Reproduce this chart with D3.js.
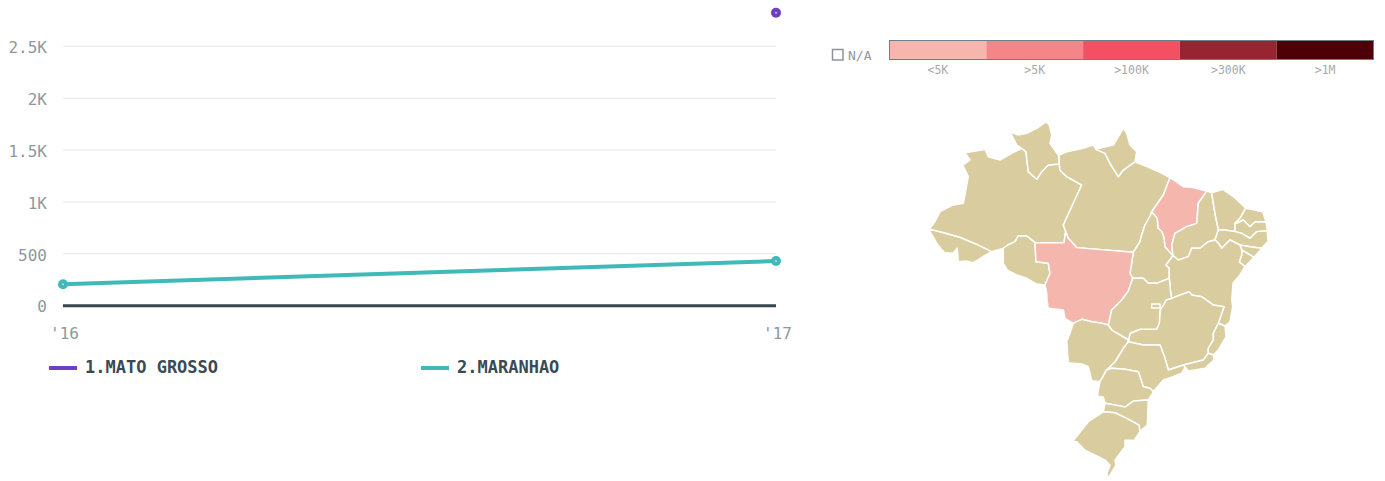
<!DOCTYPE html>
<html>
<head>
<meta charset="utf-8">
<script src="https://cdn.jsdelivr.net/npm/d3@7"></script>
<style>
  html, body { margin: 0; padding: 0; background: #fff; }
  svg { display: block; }
  text { font-family: "DejaVu Sans Mono", monospace; }
  .grid-y .domain, .axis-x .domain, .axis-x line { display: none; }
</style>
</head>
<body>
<div id="chart"></div>
<script>
// line chart data
const years = ["'16", "'17"];
const yTicks = [0, 500, 1000, 1500, 2000, 2500];
const yTickLabels = ['0', '500', '1K', '1.5K', '2K', '2.5K'];
const seriesNames = ['1.MATO GROSSO', '2.MARANHAO'];
const seriesColors = ['#6e3ec4', '#3fbab8'];
const matoGrosso = [null, 2823];
const maranhao = [207, 430];

// choropleth legend
const legendLabels = ['<5K', '>5K', '>100K', '>300K', '>1M'];
const legendColors = ['#f5b6ae', '#f4868a', '#f35064', '#962431', '#4d0008'];
const landColor = '#d9cda0';
const highlighted = ['MT', 'MA'];

// state borders as lon/lat, each one shared by the states on both sides
const acAm = [[-73.97,-7.06],[-72.15,-7.52],[-70.42,-8.02],[-68.57,-8.78],[-66.75,-9.66]];
const acOut = [[-66.75,-9.66],[-67.64,-10.15],[-68.34,-10.61],[-68.91,-10.92],[-69.72,-10.72],[-70.61,-10.80],[-70.73,-9.27],[-71.23,-9.84],[-72.15,-9.78],[-72.61,-9.35],[-73.11,-8.70],[-73.88,-7.37],[-73.97,-7.06]];
const amEdge = [[-66.75,-9.66],[-65.44,-9.30]];
const amRo = [[-65.44,-9.30],[-64.87,-8.90],[-64.06,-8.52],[-63.68,-7.87],[-62.70,-7.87],[-61.75,-8.63]];
const roMt = [[-61.75,-8.63],[-61.63,-10.80],[-60.21,-10.98],[-60.01,-12.12],[-60.59,-13.44]];
const roOut = [[-60.59,-13.44],[-61.55,-13.33],[-62.70,-12.68],[-63.86,-12.31],[-64.95,-11.75],[-65.41,-10.98],[-65.41,-9.66],[-65.44,-9.30]];
const amOut = [[-73.97,-7.06],[-73.31,-6.24],[-72.73,-5.08],[-71.19,-4.30],[-70.03,-4.11],[-69.46,-1.04],[-70.10,0.31],[-69.26,0.89],[-69.84,1.73],[-67.91,2.04],[-67.53,2.12],[-67.14,1.27],[-65.79,0.89],[-64.83,1.46],[-63.28,2.24]];
const amRr = [[-63.28,2.24],[-62.79,1.85],[-62.52,-0.46],[-61.55,-1.34],[-60.97,-0.46],[-60.21,0.31],[-58.94,0.43]];
const rrOut = [[-63.28,2.24],[-63.86,2.62],[-64.25,3.40],[-64.64,4.16],[-63.68,3.78],[-62.70,3.97],[-61.55,4.55],[-60.47,5.30],[-60.09,4.93],[-59.81,3.78],[-60.01,2.82],[-59.05,1.46],[-58.94,0.43]];
const amPa = [[-58.94,0.43],[-58.86,-0.27],[-58.08,-1.04],[-56.35,-2.00],[-58.47,-6.61],[-58.20,-7.37]];
const amMt = [[-58.20,-7.37],[-58.39,-8.64],[-61.75,-8.63]];
const paMt = [[-58.20,-7.37],[-57.90,-8.13],[-56.92,-9.20],[-50.38,-9.73]];
const paTo = [[-50.38,-9.73],[-49.61,-8.52],[-49.41,-7.76],[-49.03,-6.61],[-48.37,-5.46],[-48.25,-5.08]];
const paMa = [[-48.25,-5.08],[-46.91,-3.15],[-46.14,-1.15]];
const paN = [[-58.94,0.43],[-58.94,1.46],[-58.08,1.85],[-56.16,2.24],[-55.01,2.62],[-54.69,2.12]];
const paAp = [[-54.69,2.12],[-53.65,1.66],[-53.07,0.51],[-52.12,-1.04],[-51.54,-0.27],[-50.18,0.69]];
const apOut = [[-54.69,2.12],[-53.85,2.35],[-52.69,2.62],[-51.54,4.55],[-51.14,3.97],[-50.76,2.62],[-49.99,1.85],[-50.18,0.69]];
const paNe = [[-50.18,0.69],[-48.83,0.12],[-47.49,-0.46],[-46.14,-1.15]];
const maN = [[-46.14,-1.15],[-44.60,-2.20],[-43.63,-2.27],[-41.90,-2.70]];
const maPi = [[-41.90,-2.70],[-42.87,-4.11],[-43.05,-6.42],[-44.21,-6.80],[-45.56,-7.56],[-45.94,-8.90],[-45.79,-10.12]];
const maTo = [[-48.25,-5.08],[-47.61,-5.85],[-47.53,-6.95],[-47.06,-7.41],[-46.83,-8.10],[-46.72,-9.09],[-45.79,-10.12]];
const piN = [[-41.90,-2.70],[-41.32,-2.89]];
const piCe = [[-41.32,-2.89],[-40.94,-5.27],[-40.55,-7.18]];
const piPe = [[-40.55,-7.18],[-40.94,-8.33]];
const piBa = [[-40.94,-8.33],[-41.71,-8.52],[-42.67,-9.27],[-43.63,-9.27],[-44.02,-10.23],[-45.18,-10.61],[-45.79,-10.12]];
const ceOut = [[-41.32,-2.89],[-40.01,-2.50],[-38.62,-3.50],[-37.39,-4.69]];
const ceRn = [[-37.39,-4.69],[-38.05,-5.85],[-38.62,-6.42]];
const cePb = [[-38.62,-6.42],[-38.62,-7.37]];
const cePe = [[-38.62,-7.37],[-39.78,-7.18],[-40.55,-7.18]];
const rnOut = [[-37.39,-4.69],[-36.31,-4.88],[-35.39,-5.11],[-35.04,-6.27]];
const rnPb = [[-35.04,-6.27],[-36.31,-6.27],[-36.89,-6.80],[-37.66,-6.04],[-38.43,-6.42],[-38.62,-6.42]];
const pbOut = [[-35.04,-6.27],[-34.89,-7.26]];
const pbPe = [[-38.62,-7.37],[-37.85,-7.56],[-36.89,-8.13],[-36.11,-7.37],[-34.89,-7.26]];
const peOut = [[-34.89,-7.26],[-34.81,-8.52]];
const peAl = [[-34.81,-8.52],[-35.54,-9.27],[-36.89,-9.09],[-38.05,-8.90]];
const peBa = [[-38.05,-8.90],[-39.20,-8.33],[-40.16,-9.27],[-40.55,-8.70],[-40.94,-8.33]];
const alOut = [[-34.81,-8.52],[-36.43,-10.30]];
const alSe = [[-36.43,-10.30],[-37.85,-9.47]];
const alBa = [[-37.85,-9.47],[-38.05,-8.90]];
const seOut = [[-36.43,-10.30],[-37.47,-11.37]];
const seBa = [[-37.47,-11.37],[-38.13,-10.84],[-37.85,-10.04],[-37.85,-9.47]];
const baCoast = [[-37.47,-11.37],[-38.05,-12.31],[-38.85,-13.22],[-39.00,-15.12],[-38.89,-15.86],[-39.20,-17.53],[-39.78,-18.00]];
const baEs = [[-39.78,-18.00],[-40.55,-17.70]];
const baMg = [[-45.94,-14.93],[-44.98,-14.56],[-43.91,-14.20],[-43.63,-14.56],[-42.47,-14.75],[-41.13,-15.68],[-39.89,-15.86],[-40.55,-17.70]];
const esOut = [[-39.78,-18.00],[-39.66,-19.17],[-40.55,-20.62],[-41.13,-21.16]];
const esRj = [[-41.13,-21.16],[-41.71,-20.97]];
const esMg = [[-41.71,-20.97],[-41.71,-20.43],[-41.13,-19.53],[-41.13,-18.80],[-40.55,-17.70]];
const rjOut = [[-41.13,-21.16],[-41.05,-21.69],[-42.09,-22.58],[-44.02,-22.87],[-44.40,-22.47]];
const rjMg = [[-41.71,-20.97],[-42.29,-21.69],[-44.60,-22.23]];
const spRj = [[-44.60,-22.23],[-44.40,-22.47]];
const mgSp = [[-44.60,-22.23],[-46.33,-22.76],[-46.72,-21.51],[-47.29,-20.07],[-49.22,-20.07],[-50.96,-19.71]];
const spOut = [[-44.40,-22.47],[-44.79,-23.11],[-45.94,-23.54],[-46.91,-23.82],[-48.07,-25.05]];
const spPr = [[-48.07,-25.05],[-48.45,-24.70],[-49.22,-24.53],[-49.80,-22.94],[-51.34,-22.69],[-52.88,-22.58],[-53.46,-22.76]];
const spMs = [[-53.46,-22.76],[-52.50,-21.88],[-51.54,-20.43],[-50.96,-19.71]];
const goMs = [[-50.96,-19.71],[-51.07,-19.45],[-52.88,-18.44],[-53.27,-17.89]];
const goMt = [[-53.27,-17.89],[-52.88,-16.23],[-51.72,-15.12],[-50.96,-14.12],[-50.45,-12.68]];
const toMt = [[-50.45,-12.68],[-50.76,-12.12],[-50.38,-9.73]];
const toGo = [[-50.45,-12.68],[-49.22,-12.68],[-48.65,-13.25],[-47.68,-13.25],[-46.22,-12.68]];
const toBa = [[-46.22,-12.68],[-46.22,-11.52],[-46.60,-11.18],[-45.79,-10.12]];
const goBa = [[-46.22,-12.68],[-46.06,-14.34],[-45.94,-14.93]];
const goMg = [[-45.94,-14.93],[-46.60,-15.12],[-46.91,-15.68],[-47.29,-16.23],[-47.38,-17.70],[-47.68,-18.36],[-49.61,-18.36],[-50.76,-18.80],[-50.96,-19.71]];
const mtMs = [[-53.27,-17.89],[-54.00,-17.70],[-55.16,-17.53],[-56.35,-17.26],[-57.32,-17.70]];
const mtOut = [[-57.32,-17.70],[-58.28,-17.15],[-58.47,-16.23],[-60.21,-16.04],[-60.36,-15.12],[-60.39,-14.34],[-60.59,-13.44]];
const msOut = [[-57.32,-17.70],[-57.70,-18.77],[-58.08,-19.71],[-57.90,-21.98],[-56.35,-22.12],[-55.58,-22.41],[-55.19,-23.90],[-54.23,-24.00]];
const msPr = [[-54.23,-24.00],[-53.46,-22.76]];
const prW = [[-54.23,-24.00],[-54.54,-25.50],[-53.85,-25.64],[-53.65,-26.27]];
const prSc = [[-53.65,-26.27],[-52.50,-26.45],[-51.34,-26.66],[-50.38,-26.03],[-48.65,-25.92]];
const prE = [[-48.65,-25.92],[-48.14,-25.22],[-48.07,-25.05]];
const scOut = [[-48.65,-25.92],[-48.76,-28.50],[-49.61,-29.17]];
const scRs = [[-49.61,-29.17],[-49.72,-28.50],[-51.14,-27.82],[-52.50,-27.24],[-53.85,-27.14]];
const scW = [[-53.85,-27.14],[-53.65,-26.27]];
const rsOut = [[-49.61,-29.17],[-50.76,-30.68],[-51.07,-31.34],[-50.68,-30.51],[-50.45,-30.02],[-51.34,-30.02],[-51.34,-30.68],[-52.50,-32.00],[-52.38,-32.50],[-53.27,-33.73],[-53.46,-33.30],[-53.07,-32.50],[-53.65,-32.00],[-55.97,-31.01],[-56.92,-30.19],[-57.43,-30.19],[-55.58,-28.16],[-53.85,-27.14]];
const dfRing = [[-48.25,-15.57],[-47.29,-15.57],[-47.29,-16.01],[-48.25,-16.01],[-48.25,-15.57]];

const states = [
  { id: 'AC', arcs: [acAm, acOut] },
  { id: 'AM', arcs: [amOut, amRr, amPa, amMt, amRo, amEdge, acAm] },
  { id: 'RR', arcs: [rrOut, amRr] },
  { id: 'RO', arcs: [amRo, roMt, roOut] },
  { id: 'PA', arcs: [paN, paAp, paNe, paMa, paTo, paMt, amPa] },
  { id: 'AP', arcs: [apOut, paAp] },
  { id: 'MA', arcs: [maN, maPi, maTo, paMa] },
  { id: 'TO', arcs: [paTo, maTo, toBa, toGo, toMt] },
  { id: 'MT', arcs: [amMt, roMt, mtOut, mtMs, goMt, toMt, paMt] },
  { id: 'PI', arcs: [piN, piCe, piPe, piBa, maPi] },
  { id: 'CE', arcs: [ceOut, ceRn, cePb, cePe, piCe] },
  { id: 'RN', arcs: [rnOut, rnPb, ceRn] },
  { id: 'PB', arcs: [pbOut, pbPe, cePb, rnPb] },
  { id: 'PE', arcs: [peOut, peAl, peBa, piPe, cePe, pbPe] },
  { id: 'AL', arcs: [alOut, alSe, alBa, peAl] },
  { id: 'SE', arcs: [seOut, seBa, alSe] },
  { id: 'BA', arcs: [baCoast, baEs, baMg, goBa, toBa, piBa, peBa, alBa, seBa] },
  { id: 'MG', arcs: [baMg, esMg, rjMg, mgSp, goMg] },
  { id: 'ES', arcs: [baEs, esOut, esRj, esMg] },
  { id: 'RJ', arcs: [esRj, rjOut, spRj, rjMg] },
  { id: 'SP', arcs: [mgSp, spRj, spOut, spPr, spMs] },
  { id: 'GO', arcs: [toGo, goBa, goMg, goMs, goMt] },
  { id: 'MS', arcs: [mtMs, goMs, spMs, msPr, msOut] },
  { id: 'PR', arcs: [spPr, msPr, prW, prSc, prE] },
  { id: 'SC', arcs: [prSc, scOut, scRs, scW] },
  { id: 'RS', arcs: [scRs, rsOut] },
  { id: 'DF', arcs: [dfRing] }
];

// joins the borders of a state into one ring, flipping each where needed
function buildRing(arcs) {
  const dist = (a, b) => Math.hypot(a[0] - b[0], a[1] - b[1]);
  let ring = arcs[0].slice();
  if (arcs.length > 1) {
    const next = arcs[1];
    const endGap = Math.min(dist(ring[ring.length - 1], next[0]), dist(ring[ring.length - 1], next[next.length - 1]));
    const startGap = Math.min(dist(ring[0], next[0]), dist(ring[0], next[next.length - 1]));
    if (startGap < endGap) ring.reverse();
  }
  arcs.slice(1).forEach(arc => {
    const last = ring[ring.length - 1];
    const part = dist(last, arc[0]) <= dist(last, arc[arc.length - 1]) ? arc : arc.slice().reverse();
    ring = ring.concat(part.slice(1));
  });
  return ring;
}

const svg = d3.select('#chart').append('svg')
  .attr('width', 1385)
  .attr('height', 481);

// line chart
const x = d3.scalePoint().domain(years).range([63, 776]);
const y = d3.scaleLinear().domain([0, 2500]).range([305.7, 46.3]);

svg.append('g')
  .attr('class', 'grid-y')
  .attr('transform', 'translate(63,0)')
  .call(d3.axisLeft(y).tickValues(yTicks).tickSize(-713).tickPadding(16).offset(0)
    .tickFormat((d, i) => yTickLabels[i]))
  .call(g => g.selectAll('line').attr('stroke', '#eceef0').attr('stroke-width', 1.5))
  .call(g => g.selectAll('text')
    .attr('fill', '#8f989d').attr('font-size', 16).attr('dy', '0.42em'));

svg.append('line')
  .attr('x1', x(years[0])).attr('x2', x(years[1]))
  .attr('y1', y(0)).attr('y2', y(0))
  .attr('stroke', '#36474f').attr('stroke-width', 3);

svg.append('g')
  .attr('class', 'axis-x')
  .attr('transform', 'translate(1,306)')
  .call(d3.axisBottom(x).tickSize(0).tickPadding(22))
  .call(g => g.selectAll('text')
    .attr('fill', '#8f989d').attr('font-size', 16));

const line = d3.line()
  .defined(d => d !== null)
  .x((d, i) => x(years[i]))
  .y(d => y(d));

[matoGrosso, maranhao].forEach((values, s) => {
  svg.append('path')
    .attr('d', line(values))
    .attr('fill', 'none')
    .attr('stroke', seriesColors[s])
    .attr('stroke-width', 4);
  values.forEach((v, i) => {
    if (v === null) return;
    svg.append('circle').attr('cx', x(years[i])).attr('cy', y(v)).attr('r', 5).attr('fill', seriesColors[s]);
    svg.append('circle').attr('cx', x(years[i])).attr('cy', y(v)).attr('r', 1).attr('fill', '#c9d6d6');
  });
});

// series legend
const seriesX = d3.scalePoint().domain(seriesNames).range([49, 421]);
seriesNames.forEach((name, s) => {
  svg.append('line')
    .attr('x1', seriesX(name)).attr('x2', seriesX(name) + 28)
    .attr('y1', 368).attr('y2', 368)
    .attr('stroke', seriesColors[s]).attr('stroke-width', 4);
  svg.append('text')
    .attr('x', seriesX(name) + 36).attr('y', 373)
    .attr('font-size', 17).attr('font-weight', 700)
    .attr('fill', '#3a4a54')
    .text(name);
});

// colour legend
const legendX = d3.scaleBand().domain(legendLabels).range([889.5, 1373.5]);
svg.selectAll('rect.legend').data(legendLabels).enter().append('rect')
  .attr('class', 'legend')
  .attr('x', d => legendX(d)).attr('y', 41)
  .attr('width', legendX.bandwidth()).attr('height', 18)
  .attr('fill', (d, i) => legendColors[i]);
svg.append('rect')
  .attr('x', 889.5).attr('y', 40.5).attr('width', 484).attr('height', 19)
  .attr('fill', 'none').attr('stroke', '#6f7f89');
svg.selectAll('text.legend').data(legendLabels).enter().append('text')
  .attr('class', 'legend')
  .attr('x', d => legendX(d) + legendX.bandwidth() / 2).attr('y', 74)
  .attr('text-anchor', 'middle')
  .attr('font-size', 11.5).attr('fill', '#a4aaae')
  .text(d => d);
svg.append('rect')
  .attr('x', 832.5).attr('y', 49.5).attr('width', 10.5).attr('height', 10.5)
  .attr('fill', 'none').attr('stroke', '#8b9499').attr('stroke-width', 1.5);
svg.append('text')
  .attr('x', 848).attr('y', 60)
  .attr('font-size', 13).attr('fill', '#8f989d')
  .text('N/A');

// map
const projection = d3.geoMercator()
  .center([-74, 0])
  .scale(495.6)
  .translate([929, 167.7]);
const outline = d3.line()
  .x(d => projection(d)[0])
  .y(d => projection(d)[1]);

svg.append('g').selectAll('path').data(states).enter().append('path')
  .attr('d', d => outline(buildRing(d.arcs)) + 'Z')
  .attr('fill', d => highlighted.includes(d.id) ? legendColors[0] : landColor)
  .attr('stroke', '#fff')
  .attr('stroke-width', 1.5)
  .attr('stroke-linejoin', 'round');
</script>
</body>
</html>
